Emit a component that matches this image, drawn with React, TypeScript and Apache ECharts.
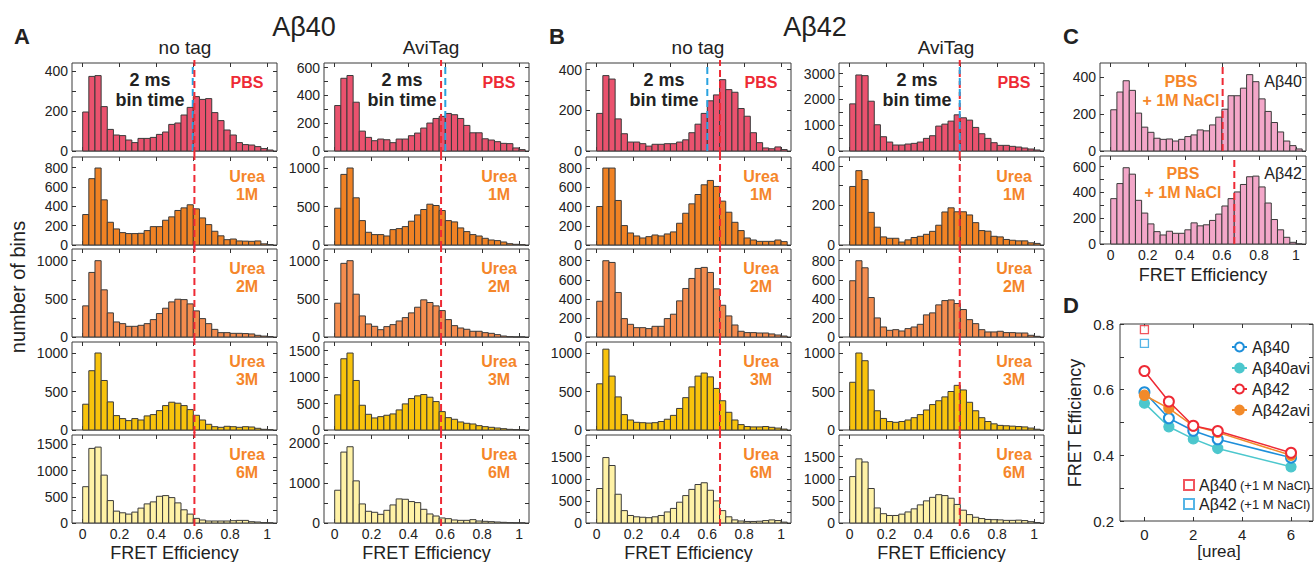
import React, { useEffect, useRef } from 'react';
import * as echarts from 'echarts';

// ---------- DATA ----------
const BIN_WIDTH = 1 / 30;
const X_TICKS = [0, 0.2, 0.4, 0.6, 0.8, 1];

// Aβ40, no tag
const ab40NoTagPBS = [195, 373, 377, 222, 108, 80, 77, 55, 42, 63, 63, 68, 83, 95, 133, 140, 180, 218, 272, 258, 262, 192, 152, 105, 80, 42, 32, 30, 22, 12, 5];
const ab40NoTagUrea1M = [315, 686, 796, 467, 235, 166, 128, 118, 118, 121, 149, 190, 190, 256, 291, 357, 384, 416, 374, 280, 211, 142, 95, 55, 62, 42, 40, 38, 42, 12, 5];
const ab40NoTagUrea2M = [408, 846, 1000, 618, 316, 197, 175, 140, 140, 153, 175, 228, 307, 377, 460, 495, 490, 434, 342, 241, 175, 100, 57, 57, 48, 48, 45, 40, 22, 12, 5];
const ab40NoTagUrea3M = [335, 770, 1000, 643, 365, 187, 148, 122, 148, 130, 183, 200, 252, 317, 361, 348, 317, 265, 191, 130, 74, 43, 35, 48, 43, 35, 43, 39, 22, 9, 4];
const ab40NoTagUrea6M = [693, 1424, 1449, 914, 428, 227, 195, 170, 208, 284, 365, 403, 510, 523, 485, 384, 252, 170, 88, 57, 38, 38, 38, 38, 44, 50, 50, 25, 19, 6, 2];

// Aβ40, AviTag
const ab40AviPBS = [327, 523, 543, 351, 143, 98, 74, 86, 81, 60, 86, 86, 110, 129, 165, 201, 234, 249, 270, 261, 234, 184, 131, 131, 88, 79, 67, 55, 53, 22, 10];
const ab40AviUrea1M = [478, 917, 1000, 613, 317, 165, 135, 135, 117, 200, 213, 239, 309, 391, 461, 530, 513, 448, 317, 300, 222, 174, 135, 117, 87, 65, 57, 39, 17, 9, 4];
const ab40AviUrea2M = [443, 965, 1000, 561, 276, 171, 140, 96, 136, 162, 210, 254, 316, 390, 487, 452, 408, 346, 228, 149, 118, 101, 75, 75, 57, 48, 31, 13, 4, 0, 0];
const ab40AviUrea3M = [665, 1348, 1456, 937, 468, 297, 228, 253, 279, 304, 380, 494, 595, 646, 671, 620, 538, 348, 234, 203, 152, 127, 114, 82, 63, 51, 38, 25, 13, 6, 2];
const ab40AviUrea6M = [823, 1781, 1915, 1058, 479, 294, 269, 218, 319, 454, 605, 596, 538, 512, 344, 227, 176, 126, 109, 76, 67, 67, 84, 50, 42, 34, 25, 17, 8, 4, 2];

// Aβ42, no tag
const ab42NoTagPBS = [185, 371, 354, 158, 85, 44, 44, 36, 24, 33, 33, 36, 36, 44, 55, 90, 132, 185, 247, 276, 351, 302, 289, 209, 171, 90, 41, 15, 11, 20, 7];
const ab42NoTagUrea1M = [400, 800, 800, 463, 202, 125, 94, 73, 87, 104, 94, 115, 136, 226, 330, 428, 525, 626, 671, 609, 456, 341, 236, 150, 73, 52, 38, 38, 38, 52, 35];
const ab42NoTagUrea2M = [375, 800, 782, 467, 193, 133, 98, 98, 88, 112, 112, 193, 239, 379, 509, 614, 719, 730, 677, 505, 333, 221, 126, 60, 46, 46, 42, 42, 32, 21, 10];
const ab42NoTagUrea3M = [600, 1050, 700, 430, 200, 130, 100, 95, 90, 95, 110, 140, 190, 280, 420, 560, 700, 740, 690, 540, 380, 230, 130, 70, 45, 40, 40, 45, 35, 25, 12];
const ab42NoTagUrea6M = [780, 1480, 1300, 650, 280, 170, 140, 130, 120, 140, 170, 250, 330, 470, 620, 760, 870, 910, 740, 500, 280, 140, 70, 45, 35, 35, 40, 55, 70, 55, 20];

// Aβ42, AviTag
const ab42AviPBS = [1827, 2947, 2921, 1930, 1017, 553, 347, 232, 232, 270, 296, 347, 489, 592, 965, 1042, 1158, 1403, 1287, 1197, 914, 669, 489, 322, 219, 219, 180, 154, 116, 77, 39];
const ab42AviUrea1M = [296, 376, 331, 165, 90, 41, 34, 34, 15, 26, 38, 44, 54, 69, 100, 167, 188, 168, 168, 152, 113, 73, 70, 44, 41, 28, 24, 21, 21, 11, 8];
const ab42AviUrea2M = [590, 800, 726, 414, 200, 105, 70, 77, 63, 88, 105, 133, 232, 253, 337, 382, 389, 351, 288, 182, 140, 77, 53, 53, 60, 46, 46, 42, 42, 18, 7];
const ab42AviUrea3M = [620, 1000, 900, 520, 250, 150, 110, 100, 110, 130, 160, 200, 260, 330, 380, 430, 500, 580, 520, 360, 250, 160, 110, 80, 60, 55, 50, 45, 40, 25, 10];
const ab42AviUrea6M = [1050, 1450, 1380, 780, 340, 210, 170, 170, 200, 250, 320, 410, 500, 580, 640, 620, 560, 420, 290, 190, 130, 100, 80, 75, 70, 60, 60, 65, 55, 30, 10];

// C: PBS + 1M NaCl
const ab40NaClHist = [223, 319, 380, 328, 205, 129, 101, 69, 63, 65, 54, 63, 78, 87, 114, 109, 141, 183, 226, 299, 299, 340, 413, 375, 282, 214, 154, 103, 54, 29, 11];
const ab42NaClHist = [352, 469, 592, 542, 339, 240, 156, 96, 70, 99, 83, 83, 110, 164, 141, 149, 183, 232, 295, 352, 404, 462, 522, 527, 443, 318, 190, 110, 52, 13, 0];

// mean FRET efficiency markers (dashed lines)
const meanA40NoTagRed = 0.606, meanA40NoTagBlue = 0.597;
const meanA40AviRed = 0.577, meanA40AviBlue = 0.6;
const meanA42NoTagRed = 0.669, meanA42NoTagBlue = 0.6;
const meanA42AviRed = 0.597, meanA42AviBlue = 0.597;
const meanA40NaCl = 0.604, meanA42NaCl = 0.667;

// D: FRET efficiency vs urea
const ureaConc = [0, 1, 2, 3, 6];
const fretAb40 = [0.592, 0.513, 0.475, 0.449, 0.393];
const fretAb40avi = [0.559, 0.487, 0.45, 0.421, 0.365];
const fretAb42 = [0.657, 0.564, 0.49, 0.474, 0.408];
const fretAb42avi = [0.583, 0.543, 0.49, 0.47, 0.4];
const fretAb40NaCl = [[0, 0.783]];
const fretAb42NaCl = [[0, 0.741]];
const D_X_TICKS = [0, 2, 4, 6];
const D_Y_TICKS = [0.2, 0.3, 0.4, 0.5, 0.6, 0.7, 0.8];
const D_Y_LABELS = [0.2, 0.4, 0.6, 0.8];

// ---------- STYLE / LAYOUT ----------
const FONT = '"Liberation Sans", Arial, Helvetica, sans-serif';
const ROW_COLORS = ['#EA526E', '#F08224', '#F48C4E', '#F8C30C', '#FFF2A6'];
const PINK = '#F3A7C9';
const RED = '#EE2A35';
const BLUE = '#2AA3E0';
const ORANGE_TXT = '#F5862A';
const COL_LEFT = [72, 324, 586, 839];
const COL_W = 205;
const ROW_TOP = [63, 157, 249, 342, 435];
const ROW_H = 88;
const X_MIN = -0.058;
const X_MAX = 1.054;

type Panel = {
  data: number[];
  left: number; top: number; width: number; height: number;
  yMax: number; tickStep: number; labelStep: number;
  color: string; lines: { x: number; color: string; span: boolean }[];
  showX: boolean; labelSize: number;
};

const columns = [
  { hists: [ab40NoTagPBS, ab40NoTagUrea1M, ab40NoTagUrea2M, ab40NoTagUrea3M, ab40NoTagUrea6M], red: meanA40NoTagRed, blue: meanA40NoTagBlue, blueOnTop: false,
    axes: [[440, 100, 200], [910, 200, 200], [1153, 250, 500], [1143, 250, 500], [1680, 250, 500]] },
  { hists: [ab40AviPBS, ab40AviUrea1M, ab40AviUrea2M, ab40AviUrea3M, ab40AviUrea6M], red: meanA40AviRed, blue: meanA40AviBlue, blueOnTop: false,
    axes: [[633, 100, 200], [1143, 250, 500], [1153, 250, 500], [1665, 250, 500], [2210, 500, 1000]] },
  { hists: [ab42NoTagPBS, ab42NoTagUrea1M, ab42NoTagUrea2M, ab42NoTagUrea3M, ab42NoTagUrea6M], red: meanA42NoTagRed, blue: meanA42NoTagBlue, blueOnTop: false,
    axes: [[433, 100, 200], [915, 200, 200], [923, 200, 200], [1143, 250, 500], [1990, 250, 500]] },
  { hists: [ab42AviPBS, ab42AviUrea1M, ab42AviUrea2M, ab42AviUrea3M, ab42AviUrea6M], red: meanA42AviRed, blue: meanA42AviBlue, blueOnTop: true,
    axes: [[3411, 500, 1000], [445, 100, 200], [923, 200, 200], [1143, 250, 500], [1990, 250, 500]] },
];

function buildPanels(): Panel[] {
  const panels: Panel[] = [];
  columns.forEach((col, c) => {
    col.hists.forEach((h, r) => {
      const [yMax, tickStep, labelStep] = col.axes[r];
      let lines = [{ x: col.red, color: RED, span: true }];
      if (r === 0) {
        lines = col.blueOnTop
          ? [{ x: col.red, color: RED, span: true }, { x: col.blue, color: BLUE, span: false }]
          : [{ x: col.blue, color: BLUE, span: false }, { x: col.red, color: RED, span: true }];
      }
      panels.push({
        data: h, left: COL_LEFT[c], top: ROW_TOP[r], width: COL_W, height: ROW_H,
        yMax, tickStep, labelStep, color: ROW_COLORS[r], lines, showX: r === 4, labelSize: 14,
      });
    });
  });
  panels.push({ data: ab40NaClHist, left: 1100, top: 63, width: 206, height: 88, yMax: 476, tickStep: 100, labelStep: 200, color: PINK, lines: [{ x: meanA40NaCl, color: RED, span: false }], showX: false, labelSize: 14 });
  panels.push({ data: ab42NaClHist, left: 1100, top: 156, width: 206, height: 88, yMax: 683, tickStep: 100, labelStep: 200, color: PINK, lines: [{ x: meanA42NaCl, color: RED, span: false }], showX: true, labelSize: 14 });
  return panels;
}

function multiples(step: number, max: number): number[] {
  const out: number[] = [];
  for (let v = 0; v <= max + 1e-9; v += step) out.push(v);
  return out;
}

const NO_LINE = { show: false, onZero: false };
const TICK_STYLE = { color: '#333', width: 1 };

function frameAxes(gi: number, xRange: [number, number], yRange: [number, number], xTicks: number[], yTicks: number[],
  xLabel: any, yLabel: any, xAxis: any[], yAxis: any[]) {
  const xi = xAxis.length;
  const xBase = { type: 'value', gridIndex: gi, min: xRange[0], max: xRange[1], splitLine: { show: false }, axisLine: NO_LINE };
  xAxis.push({ ...xBase, position: 'bottom',
    axisTick: { show: true, inside: true, length: 4, customValues: xTicks, lineStyle: TICK_STYLE }, axisLabel: xLabel });
  xAxis.push({ ...xBase, position: 'top',
    axisTick: { show: true, inside: true, length: 4, customValues: xTicks, lineStyle: TICK_STYLE }, axisLabel: { show: false } });
  const yi = yAxis.length;
  const yBase = { type: 'value', gridIndex: gi, min: yRange[0], max: yRange[1], splitLine: { show: false }, axisLine: NO_LINE };
  yAxis.push({ ...yBase, position: 'left',
    axisTick: { show: true, inside: true, length: 4, customValues: yTicks, lineStyle: TICK_STYLE }, axisLabel: yLabel });
  yAxis.push({ ...yBase, position: 'right',
    axisTick: { show: true, inside: true, length: 4, customValues: yTicks, lineStyle: TICK_STYLE }, axisLabel: { show: false } });
  return { xi, yi };
}

function buildOption() {
  const grid: any[] = [];
  const xAxis: any[] = [];
  const yAxis: any[] = [];
  const series: any[] = [];

  buildPanels().forEach((p) => {
    const gi = grid.length;
    grid.push({ left: p.left, top: p.top, width: p.width, height: p.height, show: true, borderColor: '#3a3a3a', borderWidth: 1, backgroundColor: 'transparent' });
    const { xi, yi } = frameAxes(gi, [X_MIN, X_MAX], [0, p.yMax], X_TICKS, multiples(p.tickStep, p.yMax),
      { show: p.showX, customValues: X_TICKS, fontSize: 14, color: '#222', margin: 4, fontFamily: FONT },
      { show: true, customValues: multiples(p.labelStep, p.yMax), fontSize: p.labelSize, color: '#222', margin: 4, fontFamily: FONT,
        formatter: (v: number) => String(Math.round(v)) },
      xAxis, yAxis);

    const fill = p.color;
    series.push({
      type: 'custom', xAxisIndex: xi, yAxisIndex: yi, silent: true,
      encode: { x: [0, 1], y: 2 },
      data: p.data.map((v, i) => [i * BIN_WIDTH, (i + 1) * BIN_WIDTH, v]),
      renderItem: (params: any, api: any) => {
        const a = api.coord([api.value(0), api.value(2)]);
        const b = api.coord([api.value(1), 0]);
        return { type: 'rect', shape: { x: a[0], y: a[1], width: b[0] - a[0], height: b[1] - a[1] },
          style: { fill, stroke: '#3a3a3a', lineWidth: 1 } };
      },
      z: 2,
    });
    p.lines.forEach((ln, k) => {
      const ext = ln.span ? (3 / p.height) * p.yMax : 0;
      series.push({ type: 'line', xAxisIndex: xi, yAxisIndex: yi, silent: true, symbol: 'none', clip: !ln.span,
        data: [[ln.x, -ext], [ln.x, p.yMax + ext]], lineStyle: { color: ln.color, width: 2, type: [7, 4] }, z: 5 + k });
    });
  });

  // ---------- Panel D ----------
  const gD = grid.length;
  grid.push({ left: 1120, top: 324, width: 193, height: 197, show: true, borderColor: '#3a3a3a', borderWidth: 1, backgroundColor: 'transparent' });
  const { xi: xD, yi: yD } = frameAxes(gD, [-1, 6.9], [0.2, 0.8], D_X_TICKS, D_Y_TICKS,
    { customValues: D_X_TICKS, fontSize: 15, color: '#222', margin: 6, fontFamily: FONT },
    { customValues: D_Y_LABELS, fontSize: 15, color: '#222', margin: 6, fontFamily: FONT, formatter: (v: number) => v.toFixed(1) },
    xAxis, yAxis);

  const lineSeries = (name: string, ys: number[], color: string, empty: boolean, z: number) => ({
    name, type: 'line', xAxisIndex: xD, yAxisIndex: yD,
    data: ureaConc.map((u, i) => [u, ys[i]]),
    symbol: empty ? 'emptyCircle' : 'circle', symbolSize: 10,
    lineStyle: { color, width: 1.5 },
    itemStyle: { color, borderColor: color, borderWidth: 1.3 },
    z,
  });
  series.push(lineSeries('Aβ40avi', fretAb40avi, '#4CC7CD', false, 3));
  series.push(lineSeries('Aβ40', fretAb40, '#1E8FDA', true, 4));
  series.push(lineSeries('Aβ42avi', fretAb42avi, '#F28A2A', false, 5));
  series.push(lineSeries('Aβ42', fretAb42, '#EE2A35', true, 6));
  series.push({ name: 'Aβ40 (+1 M NaCl)', type: 'scatter', xAxisIndex: xD, yAxisIndex: yD, data: fretAb40NaCl,
    symbol: 'rect', symbolSize: 8, itemStyle: { color: '#fff', borderColor: '#EE2A35', borderWidth: 1.3 } });
  series.push({ name: 'Aβ42 (+1 M NaCl)', type: 'scatter', xAxisIndex: xD, yAxisIndex: yD, data: fretAb42NaCl,
    symbol: 'rect', symbolSize: 8, itemStyle: { color: '#fff', borderColor: '#2AA3E0', borderWidth: 1.3 } });

  const legend = [
    { data: ['Aβ40', 'Aβ40avi', 'Aβ42', 'Aβ42avi'], orient: 'vertical', left: 1226, top: 334, itemGap: 5,
      itemWidth: 15, itemHeight: 11, textStyle: { fontSize: 16, color: '#222', fontFamily: FONT }, selectedMode: false },
    { data: ['Aβ40 (+1 M NaCl)', 'Aβ42 (+1 M NaCl)'], orient: 'vertical', left: 1178, top: 472, itemGap: 3,
      itemWidth: 10, itemHeight: 10, selectedMode: false,
      formatter: (n: string) => { const parts = n.split(' '); return '{a|' + parts[0] + '} {b|' + parts.slice(1).join(' ') + '}'; },
      textStyle: { fontFamily: FONT, color: '#222', rich: { a: { fontSize: 16, fontFamily: FONT }, b: { fontSize: 13, fontFamily: FONT } } } },
  ];

  const txt = (text: string, x: number, y: number, size: number, opts: any = {}) => ({
    type: 'text', x, y, rotation: opts.rotation || 0, silent: true,
    style: { text, fontSize: size, fontFamily: FONT, fontWeight: opts.bold ? 'bold' : 'normal', fill: opts.color || '#222',
      align: opts.align || 'center', verticalAlign: 'middle', lineHeight: opts.lineHeight },
  });

  const graphic: any[] = [
    txt('A', 22, 36, 22, { bold: true }),
    txt('B', 557, 36, 22, { bold: true }),
    txt('C', 1071, 36, 22, { bold: true }),
    txt('D', 1071, 305, 22, { bold: true }),
    txt('Aβ40', 304, 27, 27),
    txt('Aβ42', 815, 27, 27),
    txt('no tag', 185, 47, 19),
    txt('AviTag', 431, 47, 19),
    txt('no tag', 698, 47, 19),
    txt('AviTag', 946, 47, 19),
    txt('number of bins', 18, 287, 20, { rotation: Math.PI / 2 }),
    txt('FRET Efficiency', 1075, 423, 18, { rotation: Math.PI / 2 }),
    txt('[urea]', 1219, 551, 17),
    txt('FRET Efficiency', 1203, 275, 18),
  ];
  COL_LEFT.forEach((l) => {
    graphic.push(txt('FRET Efficiency', l + 102.5, 553, 18));
    graphic.push(txt('2 ms\nbin time', l + 78, 90, 18, { bold: true, lineHeight: 20 }));
    graphic.push(txt('PBS', l + 175, 82, 16, { bold: true, color: RED }));
    ['1M', '2M', '3M', '6M'].forEach((m, k) => {
      graphic.push(txt('Urea\n' + m, l + 175, ROW_TOP[k + 1] + 28, 16, { bold: true, color: ORANGE_TXT, lineHeight: 18 }));
    });
  });
  graphic.push(txt('PBS\n+ 1M NaCl', 1181, 91, 16, { bold: true, color: ORANGE_TXT, lineHeight: 19 }));
  graphic.push(txt('PBS\n+ 1M NaCl', 1183, 183, 16, { bold: true, color: ORANGE_TXT, lineHeight: 19 }));
  graphic.push(txt('Aβ40', 1302, 81, 16, { align: 'right' }));
  graphic.push(txt('Aβ42', 1302, 173, 16, { align: 'right' }));

  return {
    animation: false,
    backgroundColor: '#ffffff',
    textStyle: { fontFamily: FONT },
    grid, xAxis, yAxis, series, legend, graphic,
  };
}

export default function App() {
  const ref = useRef<HTMLDivElement>(null);
  useEffect(() => {
    if (!ref.current) return;
    const chart = echarts.init(ref.current, null, { renderer: 'svg' });
    chart.setOption(buildOption() as any);
    return () => chart.dispose();
  }, []);
  return <div ref={ref} style={{ position: 'absolute', left: 0, top: 0, width: 1315, height: 562 }} />;
}
